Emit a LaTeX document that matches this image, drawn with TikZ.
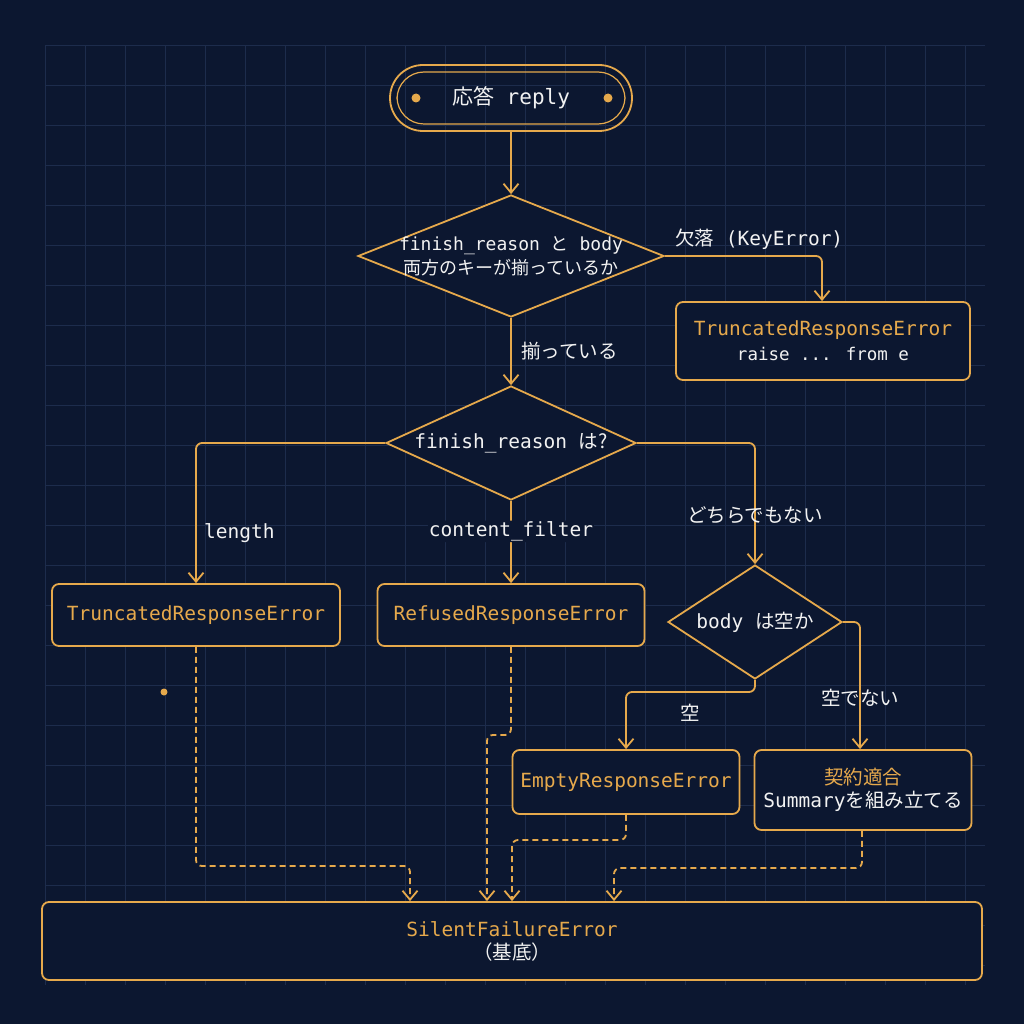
\documentclass[tikz,border=0pt]{standalone}
\usepackage{fontspec}
\setmainfont{DejaVu Sans Mono}
\newfontfamily\ja{Noto Sans CJK JP}
\usetikzlibrary{arrows.meta,shapes.geometric,calc}
\definecolor{bgnavy}{HTML}{0C1730}
\definecolor{gridblue}{HTML}{1D2C4C}
\definecolor{amber}{HTML}{E6A94C}
\definecolor{paper}{HTML}{F2F2F2}
\tikzset{
  flow/.style={draw=amber,line width=1.8pt,-{Straight Barb[length=9pt,width=15pt,line width=1.8pt]},rounded corners=6pt},
  weak/.style={flow,dashed,dash pattern=on 6pt off 4pt},
  errbox/.style={draw=amber,line width=1.8pt,rounded corners=7pt,fill=bgnavy,inner sep=0pt},
  decision/.style={diamond,draw=amber,line width=1.8pt,fill=bgnavy,inner sep=0pt},
  lbl/.style={text=paper,font=\fontsize{19.5}{23}\selectfont}
}
\begin{document}
\begin{tikzpicture}[x=1pt,y=-1pt,font=\fontsize{19.5}{23}\selectfont]
  % 背景と格子
  \fill[bgnavy] (0,0) rectangle (1024,1024);
  \useasboundingbox (0,0) rectangle (1024,1024);
  \foreach \g in {45,85,...,985} {
    \draw[gridblue,line width=0.6pt] (\g,45) -- (\g,985);
    \draw[gridblue,line width=0.6pt] (45,\g) -- (985,\g);
  }

  % 開始
  \node[draw=amber,line width=1.8pt,rounded corners=33pt,minimum width=242pt,minimum height=66pt] (start) at (511,98) {};
  \node[draw=amber,line width=1.2pt,rounded corners=27pt,minimum width=228pt,minimum height=52pt,text=paper,font=\fontsize{21}{24}\selectfont] (startin) at (511,98) {{\ja 応答} reply};
  \fill[amber] (416,98) circle (4.5pt) (608,98) circle (4.5pt);

  % 判定
  \node[decision,aspect=2.5,minimum width=306pt,minimum height=122pt,text=paper,align=center,inner sep=-6pt,font=\fontsize{18}{24}\selectfont] (keys) at (511,256) {finish\_reason {\ja と} body\\{\ja 両方のキーが揃っているか}};
  \node[decision,aspect=2.2,minimum width=250pt,minimum height=114pt,text=paper] (reason) at (511,443) {finish\_reason {\ja は?}};
  \node[decision,aspect=1.5,minimum width=174pt,minimum height=114pt,text=paper] (empty) at (755,622) {body {\ja は空か}};

  % 結果
  \node[errbox,minimum width=294pt,minimum height=78pt,align=center] (trunc1) at (823,341) {\textcolor{amber}{TruncatedResponseError}\\[2pt]\textcolor{paper}{\fontsize{17.5}{20}\selectfont raise ... from e}};
  \node[errbox,minimum width=288pt,minimum height=62pt,text=amber] (trunc2) at (196,615) {TruncatedResponseError};
  \node[errbox,minimum width=267pt,minimum height=62pt,text=amber] (refused) at (511,615) {RefusedResponseError};
  \node[errbox,minimum width=227pt,minimum height=64pt,text=amber] (emptyerr) at (626,782) {EmptyResponseError};
  \node[errbox,minimum width=217pt,minimum height=80pt,align=center] (summary) at (863,790) {\textcolor{amber}{\ja 契約適合}\\\textcolor{paper}{Summary{\ja を組み立てる}}};
  \node[errbox,minimum width=940pt,minimum height=78pt,align=center] (base) at (512,941) {\textcolor{amber}{SilentFailureError}\\\textcolor{paper}{\ja （基底）}};
  \fill[amber] (164,692) circle (3.5pt);

  % 実線の流れ
  \draw[flow] (start.south) -- (keys.north);
  \draw[flow] (keys.east) -| (trunc1.north -| 822,0) node[lbl,pos=0.3,above=2pt] {{\ja 欠落} (KeyError)};
  \draw[flow] (keys.south) -- node[lbl,right=6pt] {\ja 揃っている} (reason.north);
  \draw[flow] (reason.west) -| (trunc2.north) node[lbl,pos=0.82,right=4pt] {length};
  \draw[flow] (reason.south) -- node[lbl,pos=0.37,fill=bgnavy,inner sep=1pt] {content\_filter} (refused.north);
  \draw[flow] (reason.east) -| (empty.north) node[lbl,pos=0.8] {\ja どちらでもない};
  \draw[flow] (empty.south) |- (emptyerr.north |- 0,692) node[lbl,pos=0.75,below=8pt] {\ja 空} -- (emptyerr.north);
  \draw[flow] (empty.east) -| (summary.north -| 860,0) node[lbl,pos=0.8] {\ja 空でない};

  % 破線の流れ
  \draw[weak] (trunc2.south) |- (410,866) -- (base.north -| 410,0);
  \draw[weak] (refused.south) |- (487,735) -- (base.north -| 487,0);
  \draw[weak] (emptyerr.south) |- (512,840) -- (base.north -| 512,0);
  \draw[weak] (summary.south -| 862,0) |- (614,868) -- (base.north -| 614,0);
\end{tikzpicture}
\end{document}
